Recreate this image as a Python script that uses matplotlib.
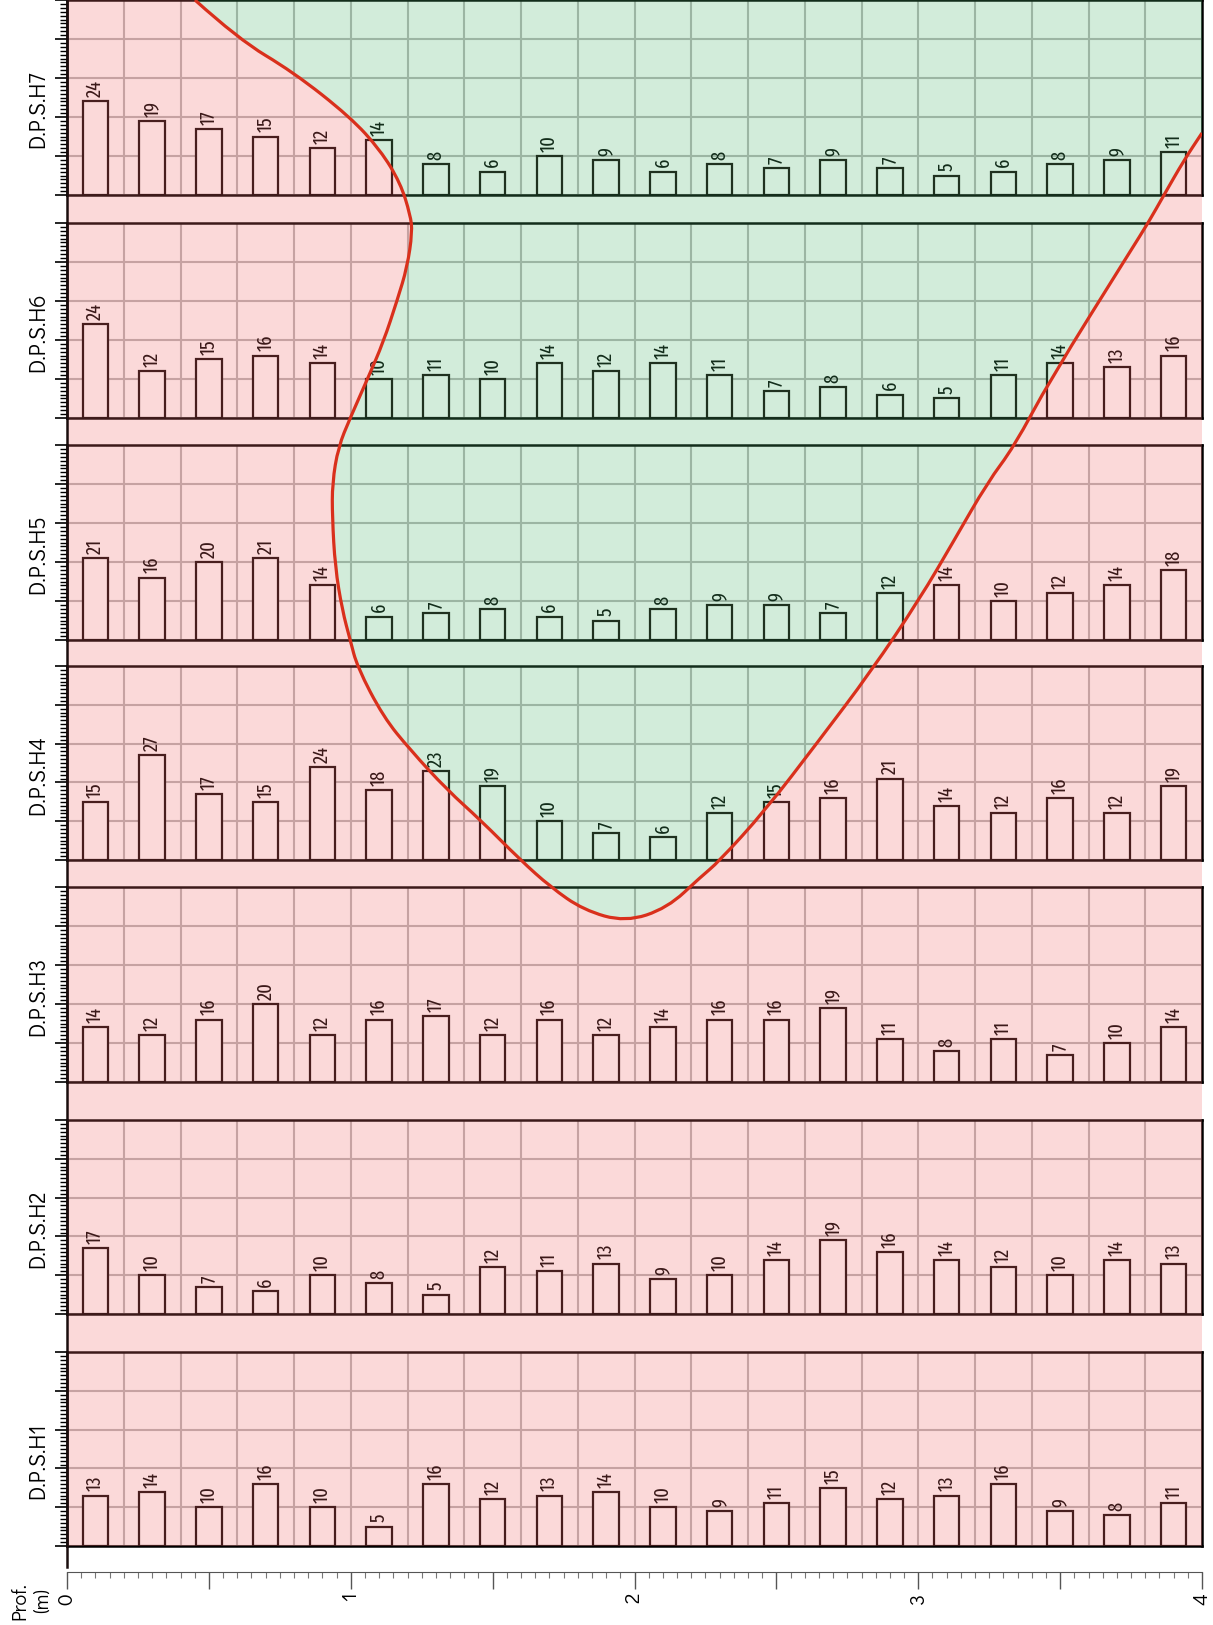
import matplotlib.pyplot as plt
import numpy as np
from matplotlib.ticker import MultipleLocator, FuncFormatter
from matplotlib.path import Path
from matplotlib.patches import PathPatch

plt.rcParams['font.family'] = ['Didact Gothic', 'Questrial', 'Lato', 'DejaVu Sans']
narrow = ['Fira Sans Extra Condensed', 'Roboto Condensed', 'DejaVu Sans']

# depth of each reading (m)
depths = [0.1, 0.3, 0.5, 0.7, 0.9, 1.1, 1.3, 1.5, 1.7, 1.9,
          2.1, 2.3, 2.5, 2.7, 2.9, 3.1, 3.3, 3.5, 3.7, 3.9]

# blow counts per test
h1 = [13, 14, 10, 16, 10, 5, 16, 12, 13, 14, 10, 9, 11, 15, 12, 13, 16, 9, 8, 11]
h2 = [17, 10, 7, 6, 10, 8, 5, 12, 11, 13, 9, 10, 14, 19, 16, 14, 12, 10, 14, 13]
h3 = [14, 12, 16, 20, 12, 16, 17, 12, 16, 12, 14, 16, 16, 19, 11, 8, 11, 7, 10, 14]
h4 = [15, 27, 17, 15, 24, 18, 23, 19, 10, 7, 6, 12, 15, 16, 21, 14, 12, 16, 12, 19]
h5 = [21, 16, 20, 21, 14, 6, 7, 8, 6, 5, 8, 9, 9, 7, 12, 14, 10, 12, 14, 18]
h6 = [24, 12, 15, 16, 14, 10, 11, 10, 14, 12, 14, 11, 7, 8, 6, 5, 11, 14, 13, 16]
h7 = [24, 19, 17, 15, 12, 14, 8, 6, 10, 9, 6, 8, 7, 9, 7, 5, 6, 8, 9, 11]

names = ['D.P.S.H7', 'D.P.S.H6', 'D.P.S.H5', 'D.P.S.H4', 'D.P.S.H3', 'D.P.S.H2', 'D.P.S.H1']
series = [h7, h6, h5, h4, h3, h2, h1]

# boundary of the soft zone (x in m, y in image rows)
curve_x = [0.451, 0.603, 0.797, 0.998, 1.104, 1.175, 1.210, 1.217, 1.199, 1.164,
           1.115, 1.062, 0.998, 0.956, 0.935, 0.935, 0.945, 0.970, 0.998, 1.023,
           1.115, 1.210, 1.340, 1.457, 1.598, 1.704, 1.820, 1.968, 2.116, 2.233,
           2.296, 2.462, 2.646, 2.832, 3.005, 3.125, 3.245, 3.337, 3.464, 3.750,
           3.810, 3.866, 3.937, 4.000]
curve_y = [0, 39, 72, 117, 150, 183, 215, 232, 267, 300,
           342, 377, 418, 447, 483, 517, 567, 610, 640, 667,
           717, 750, 790, 820, 860, 887, 910, 922, 908, 877,
           862, 810, 742, 672, 599, 541, 482, 447, 380, 250,
           223, 195, 160, 133]

W, H = 1213, 1625
fig = plt.figure(figsize=(W / 100, H / 100), dpi=100)
x0, x1 = 67, 1202
axw = (x1 - x0) / W

# panel rows in the image (top, bottom)
rows = [(0, 195), (223, 418), (445, 640), (666, 860), (887, 1082), (1120, 1314), (1352, 1546)]

for name, vals, (top, bot) in zip(names, series, rows):
    ax = fig.add_axes([x0 / W, 1 - bot / H, axw, (bot - top) / H])
    ax.set_xlim(0, 4)
    ax.set_ylim(0, 50)
    ax.set_axisbelow(True)
    ax.xaxis.set_major_locator(MultipleLocator(0.2))
    ax.yaxis.set_major_locator(MultipleLocator(10))
    ax.yaxis.set_minor_locator(MultipleLocator(1))
    ax.grid(True, which='major', color='#b8b6b6', lw=1.5)
    ax.tick_params(axis='x', length=0, labelbottom=False)
    ax.tick_params(axis='y', which='major', length=9, width=1.2, labelleft=False)
    ax.tick_params(axis='y', which='minor', length=5, width=1.0)
    for s in ax.spines.values():
        s.set_linewidth(1.8)
        s.set_color('black')
    bars = ax.bar(depths, vals, width=0.09, facecolor='white', edgecolor='#100606', linewidth=1.6)
    ax.bar_label(bars, padding=3, rotation=90, fontsize=14.5, family=narrow)
    ax.text(-0.1, 22, name, rotation=90, ha='center', va='center', fontsize=16)


def smooth_path(xs, ys):
    # quadratic bezier through the midpoints, read points act as control points
    verts = [(xs[0], ys[0])]
    codes = [Path.MOVETO]
    for i in range(1, len(xs) - 1):
        verts += [(xs[i], ys[i]), ((xs[i] + xs[i + 1]) / 2, (ys[i] + ys[i + 1]) / 2)]
        codes += [Path.CURVE3, Path.CURVE3]
    verts.append((xs[-1], ys[-1]))
    codes.append(Path.LINETO)
    return verts, codes


# colour zones on top (transparent) plus boundary line
ov = fig.add_axes([x0 / W, 0, axw, 1])
ov.set_xlim(0, 4)
ov.set_ylim(H, 0)
ov.axis('off')
ov.set_zorder(5)
bottom = rows[-1][1]
cv, cc = smooth_path(curve_x, curve_y)

pink = Path([(0, 0)] + cv + [(4, bottom), (0, bottom), (0, 0)],
            [Path.MOVETO, Path.LINETO] + cc[1:] + [Path.LINETO, Path.LINETO, Path.CLOSEPOLY])
green = Path(cv + [(4, 0), (0, 0)], cc + [Path.LINETO, Path.CLOSEPOLY])
ov.add_patch(PathPatch(pink, facecolor='#f06868', alpha=0.25, lw=0))
ov.add_patch(PathPatch(green, facecolor='#4cb46c', alpha=0.25, lw=0))
ov.add_patch(PathPatch(Path(cv, cc), facecolor='none', edgecolor='#d9301c', lw=2.3))
ov.plot([0, 0], [0, 1567], color='#1a0d0d', lw=1.8, clip_on=False)

# depth axis at the bottom
axx = fig.add_axes([x0 / W, 1 - 1572 / H, axw, 1e-6])
axx.set_xlim(0, 4)
for side in ['left', 'right', 'top']:
    axx.spines[side].set_visible(False)
axx.spines['bottom'].set_color('#555555')
axx.set_yticks([])
axx.xaxis.set_major_locator(MultipleLocator(0.5))
axx.xaxis.set_minor_locator(MultipleLocator(0.05))
axx.xaxis.set_major_formatter(FuncFormatter(lambda v, p: '%d' % v if v == int(v) else ''))
axx.tick_params(axis='x', which='major', length=12, width=1, color='#555555', labelsize=15,
                labelrotation=90, pad=3)
axx.tick_params(axis='x', which='minor', length=4, width=0.8, color='#777777')

axq = fig.add_axes([x0 / W, 1 - 1572 / H, axw, 1e-6])
axq.set_xlim(0, 4)
axq.axis('off')
axq.set_xticks([0.25, 0.75, 1.25, 1.75, 2.25, 2.75, 3.25, 3.75])
axq.xaxis.set_visible(True)
axq.tick_params(axis='x', length=9, width=0.9, color='#666666', labelbottom=False)

fig.text(31 / W, 1 - 1601 / H, 'Prof.\n(m)', rotation=90, ha='center', va='center',
         fontsize=14.5, multialignment='center')

plt.savefig('out.png', dpi=100)
